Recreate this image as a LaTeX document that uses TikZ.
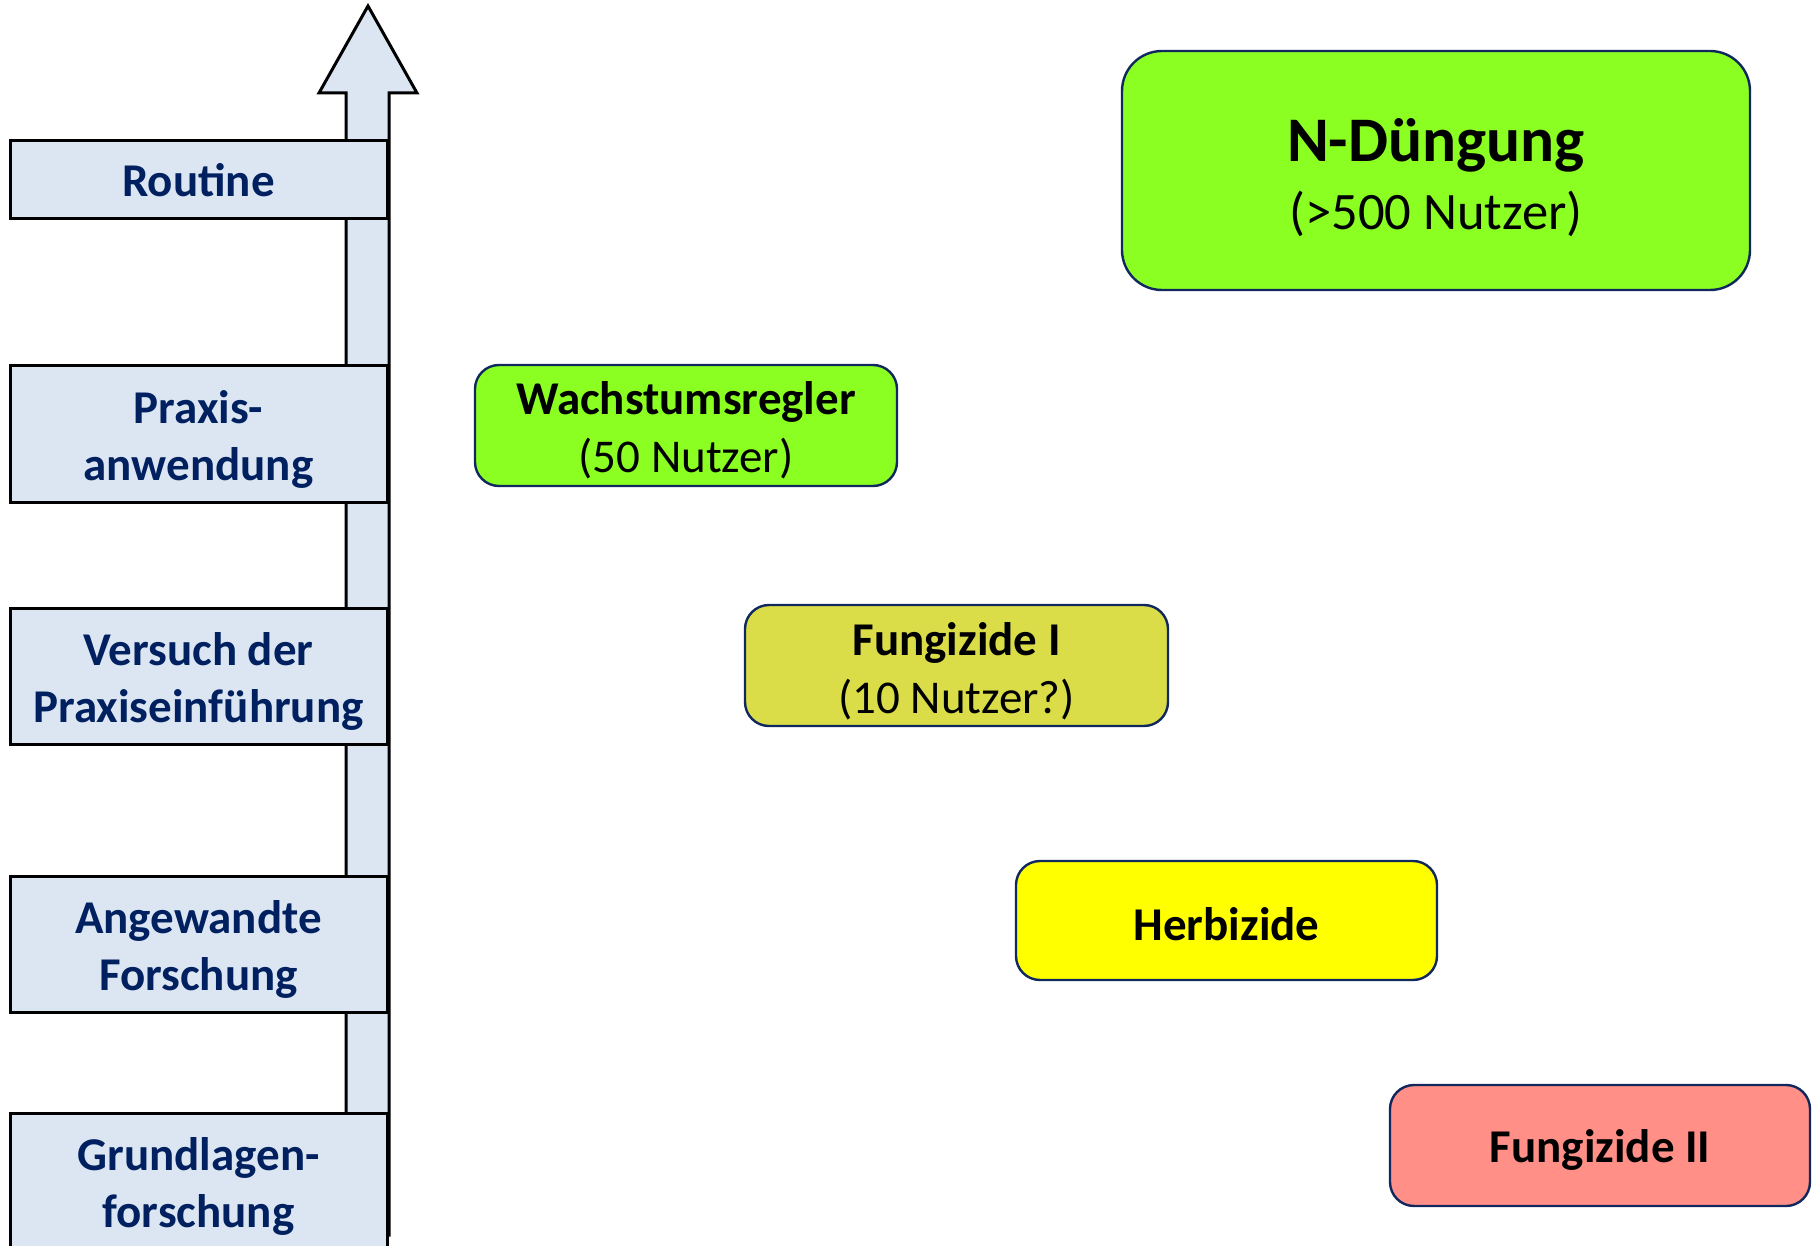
\documentclass[tikz,border=0pt]{standalone}
\usepackage{fontspec}
\setmainfont{Carlito}
\definecolor{navy}{HTML}{002060}
\definecolor{levelfill}{HTML}{DCE6F2}
\definecolor{limegreen}{HTML}{8BFF22}
\definecolor{olivey}{HTML}{DADD47}
\definecolor{pureyellow}{HTML}{FFFF00}
\definecolor{salmon}{HTML}{FF8F87}
\definecolor{boxborder}{HTML}{10285E}
\newcommand{\lift}[1]{\rule{0pt}{#1}}
\tikzset{
  level/.style={draw=black, line width=1.5pt, fill=levelfill, inner sep=0pt,
    minimum width=188.5pt, align=center, text=navy,
    font=\fontsize{23.5}{28.5}\selectfont\bfseries},
  method/.style={draw=boxborder, line width=1.2pt, rounded corners=12pt, inner sep=0pt,
    align=center, text=black, font=\fontsize{23.5}{29}\selectfont},
}
\begin{document}
\begin{tikzpicture}[x=0.5pt, y=-0.5pt]
\useasboundingbox (0,0) rectangle (1817,1246);
% arrow
\draw[line width=1.5pt, fill=levelfill, line join=miter]
  (368,6) -- (417,93) -- (389,93) -- (389,1235) -- (346,1235) -- (346,93) -- (319,93) -- cycle;
% levels
\node[level, minimum height=39pt] (routine) at (198.5,180) {Routine};
\node[level, minimum height=68pt] (praxis) at (198.5,434) {\lift{21.5pt}Praxis-\\anwendung};
\node[level, minimum height=68pt] (versuch) at (198.5,676) {\lift{21.5pt}Versuch der\\Praxiseinführung};
\node[level, minimum height=68pt] (angew) at (198.5,944) {\lift{21.5pt}Angewandte\\Forschung};
\node[level, minimum height=68pt] (grund) at (198.5,1181) {\lift{21.5pt}Grundlagen-\\forschung};
% methods
\node[method, fill=limegreen, rounded corners=20pt, minimum width=314pt, minimum height=119.5pt,
  font=\fontsize{26.3}{34}\selectfont] (ndue) at (1436,170.5)
  {\lift{29pt}{\fontsize{31.75}{34}\selectfont\bfseries N-Düngung}\\(>500 Nutzer)};
\node[method, fill=limegreen, minimum width=211pt, minimum height=60.5pt] (wachs) at (686,425.5)
  {\lift{21.5pt}\textbf{Wachstumsregler}\\(50 Nutzer)};
\node[method, fill=olivey, minimum width=211.5pt, minimum height=60.5pt] (fung1) at (956.5,665.5)
  {\lift{22.5pt}\textbf{Fungizide I}\\(10 Nutzer?)};
\node[method, fill=pureyellow, minimum width=210.5pt, minimum height=59.5pt] (herb) at (1226.5,920.5)
  {\lift{20pt}\textbf{Herbizide}};
\node[method, fill=salmon, minimum width=210pt, minimum height=60.5pt] (fung2) at (1600,1145.5)
  {\lift{21pt}\textbf{Fungizide II}};
\end{tikzpicture}
\end{document}
